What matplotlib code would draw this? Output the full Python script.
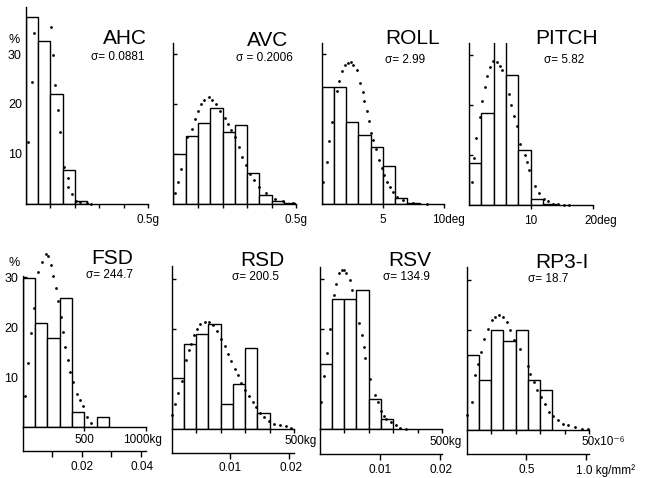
import matplotlib
matplotlib.use('Agg')
import matplotlib.pyplot as plt
import matplotlib.transforms as mtransforms

plt.rcParams['font.family'] = ['Liberation Sans', 'DejaVu Sans']

W, H = 646, 478
PX = 5.0  # pixels per percent

# ---- data ----
ahc_edges = [0.0, 0.05, 0.10, 0.15, 0.20]
ahc_pct = [37.5, 32.7, 22.0, 6.8, 0.7]
ahc_dot_x = [0.009, 0.023, 0.034, 0.102, 0.112, 0.119, 0.130, 0.139, 0.157, 0.171,
             0.173, 0.187, 0.205, 0.221, 0.250, 0.266]
ahc_dot_y = [12.4, 24.4, 34.3, 35.5, 29.8, 23.8, 18.9, 14.4, 7.5, 5.2,
             3.4, 2.1, 0.6, 0.4, 0.3, 0.1]

avc_edges = [0.0, 0.05, 0.10, 0.15, 0.20, 0.25, 0.30, 0.35, 0.40, 0.45]
avc_pct = [10.1, 13.7, 16.1, 19.1, 14.5, 15.8, 6.3, 1.8, 0.6, 0.3]
avc_dot_x = [0.007, 0.020, 0.031, 0.054, 0.074, 0.088, 0.099, 0.112, 0.126, 0.145,
             0.159, 0.173, 0.189, 0.209, 0.223, 0.236, 0.250, 0.266, 0.281, 0.295,
             0.311, 0.328, 0.349, 0.378, 0.412, 0.446, 0.486]
avc_dot_y = [2.3, 4.5, 7.1, 13.5, 15.1, 17.0, 18.6, 19.9, 20.8, 21.3,
             20.8, 19.9, 18.5, 17.1, 16.0, 14.8, 13.5, 11.5, 9.5, 7.8,
             6.1, 4.8, 3.5, 2.3, 1.1, 0.6, 0.3]

roll_edges = [0, 1, 2, 3, 4, 5, 6, 7]
roll_pct = [23.3, 23.3, 16.3, 13.8, 11.5, 7.6, 1.2, 0.3]
roll_dot_x = [0.14, 0.41, 0.60, 0.87, 1.23, 1.44, 1.69, 1.90, 2.13, 2.37,
              2.59, 2.86, 3.13, 3.35, 3.49, 3.68, 3.90, 4.03, 4.22, 4.44,
              4.69, 4.90, 5.10, 5.37, 5.59, 5.80, 6.19, 6.68, 7.50, 8.60]
roll_dot_y = [4.5, 8.5, 12.6, 16.3, 22.5, 24.6, 26.5, 27.7, 28.1, 28.3,
              27.7, 26.7, 24.1, 22.3, 20.5, 18.5, 16.5, 14.3, 12.8, 11.1,
              8.8, 7.3, 5.8, 4.5, 3.5, 2.5, 1.5, 0.8, 0.3, 0.1]

pitch_edges = [0, 2, 4, 6, 8, 10, 12]
pitch_pct = [8.5, 18.3, 33.1, 25.9, 11.0, 1.3, 0.3]
pitch_dot_x = [0.42, 0.84, 1.21, 1.74, 2.10, 2.53, 2.95, 3.32, 3.95, 4.53,
               5.05, 5.30, 6.47, 6.84, 7.26, 7.79, 8.30, 9.00, 9.37, 9.63,
               10.6, 11.3, 12.2, 12.8, 13.6, 14.4, 15.3, 16.2]
pitch_dot_y = [4.6, 9.3, 13.3, 17.5, 20.8, 23.5, 25.8, 27.6, 28.8, 28.5,
               27.8, 27.0, 22.1, 19.9, 17.8, 15.8, 12.1, 10.1, 8.6, 7.1,
               3.8, 2.5, 1.3, 0.8, 0.3, 0.13, 0.05, 0.05]

fsd_edges = [0, 100, 200, 300, 400, 500, 600]
fsd_pct = [29.8, 20.9, 17.9, 25.8, 3.0, 0.0, 2.0]
fsd_dot_x = [19, 46, 68, 95, 127, 154, 186, 208, 227, 249, 270, 289,
             308, 324, 343, 365, 384, 411, 438, 465, 492, 519, 559]
fsd_dot_y = [6.3, 12.9, 18.9, 23.8, 31.0, 33.1, 34.7, 34.3, 32.5, 30.2, 27.9, 25.2,
             22.1, 19.0, 16.1, 13.5, 11.1, 9.0, 6.7, 5.5, 4.3, 2.0, 0.8]

rsd_edges = [0, 50, 100, 150, 200, 250, 300, 350]
rsd_pct = [10.2, 17.0, 19.0, 20.9, 5.0, 9.0, 16.1, 3.1]
rsd_dot_x = [3, 14, 27, 41, 58, 70, 78, 92, 104, 118, 135, 153, 169, 185, 203, 216,
             230, 243, 257, 270, 284, 300, 315, 331, 345, 361, 378, 399, 419, 442, 466, 486]
rsd_dot_y = [2.7, 5.0, 7.1, 9.5, 13.7, 15.7, 17.0, 18.7, 20.0, 20.9, 21.3, 21.3, 20.7, 19.5, 18.0, 16.5,
             15.0, 13.5, 12.0, 10.7, 9.1, 7.7, 6.5, 5.3, 4.3, 3.2, 2.3, 1.5, 1.0, 0.7, 0.5, 0.2]

rsv_edges = [0, 50, 100, 150, 200, 250]
rsv_pct = [13.1, 26.0, 26.0, 27.9, 6.0, 2.1]
rsv_dot_x = [7, 20, 30, 44, 59, 68, 78, 91, 100, 109, 123, 132, 161, 173, 180, 187,
             207, 228, 239, 250, 262, 272, 293, 311, 330, 354]
rsv_dot_y = [5.5, 10.7, 15.3, 20.0, 26.9, 29.1, 31.2, 31.9, 31.8, 31.2, 29.8, 27.8, 21.3, 18.9, 16.5, 14.3,
             10.0, 6.8, 5.5, 3.6, 2.7, 2.1, 1.5, 0.8, 0.3, 0.1]

rp3_edges = [0, 5, 10, 15, 20, 25, 30]
rp3_pct = [15.0, 10.0, 19.9, 17.7, 19.9, 9.9, 8.0]
rp3_dot_x = [0.4, 2.2, 3.6, 4.5, 5.9, 7.2, 8.6, 10.2, 11.6, 13.1, 14.8, 16.4, 17.8, 19.3, 21.6,
             25.0, 26.0, 27.3, 28.7, 30.2, 31.8, 33.6, 35.2, 37.3, 39.3, 41.4, 44.1, 46.9, 49.6]
rp3_dot_y = [2.9, 5.5, 10.9, 13.2, 15.5, 18.2, 20.2, 21.9, 22.5, 22.9, 22.5, 21.5, 19.9, 17.9, 16.2,
             12.7, 11.2, 9.5, 7.9, 6.5, 5.2, 3.5, 2.7, 1.9, 1.2, 0.9, 0.5, 0.2, 0.1]

titles = ['AHC', 'AVC', 'ROLL', 'PITCH', 'FSD', 'RSD', 'RSV', 'RP3-I']
sigmas = ['σ= 0.0881', 'σ = 0.2006', 'σ= 2.99', 'σ= 5.82',
          'σ= 244.7', 'σ= 200.5', 'σ= 134.9', 'σ= 18.7']

fig = plt.figure(figsize=(W / 100, H / 100), dpi=100)


def shift_label(lab, dx):
    lab.set_transform(lab.get_transform() +
                      mtransforms.ScaledTranslation(dx / 100, 0, fig.dpi_scale_trans))


def panel(x0, x1, base, ytop, xmax, edges, width, pct, dx, dy,
          ticks, labels, last_dx=0, first=False, lower=None):
    ax = fig.add_axes([x0 / W, 1 - base / H, (x1 - x0) / W, ytop * PX / H])
    ax.patch.set_alpha(0)
    ax.bar(edges, pct, width=width, align='edge', facecolor='white',
           edgecolor='black', linewidth=1.0, zorder=2)
    ax.plot(dx, dy, 'o', ms=2.0, color='black', mec='none', zorder=3, clip_on=False)
    ax.set_xlim(0, xmax)
    ax.set_ylim(0, ytop)
    ax.spines['top'].set_visible(False)
    ax.spines['right'].set_visible(False)
    for s in ['left', 'bottom']:
        ax.spines[s].set_linewidth(1.0)
    ax.set_yticks([10, 20, 30])
    ax.tick_params(axis='y', direction='in', length=3, width=1.0,
                   labelleft=first, labelsize=9, pad=3)
    ax.set_xticks(ticks, labels)
    ax.tick_params(axis='x', direction='out', length=3, width=1.0,
                   labelsize=8.5, pad=2 if lower else 4)
    shift_label(ax.get_xticklabels()[-1], last_dx)

    if lower is not None:
        low_px, k, lticks, llabels, ldx = lower
        loc = -(low_px - base) / (ytop * PX)
        sec = ax.secondary_xaxis(loc, functions=(lambda v: v * k, lambda v: v / k))
        sec.spines['bottom'].set_linewidth(1.0)
        sec.set_xticks(lticks, llabels)
        sec.tick_params(axis='x', direction='out', length=4, width=1.0,
                        labelsize=8.5, pad=3)
        shift_label(sec.get_xticklabels()[-1], ldx)
        ax.plot([0, 0], [loc, 0], transform=ax.transAxes, color='black',
                lw=1.0, clip_on=False)
    return ax


empty = ''
panel(26, 148, 204, 39.4, 0.5, ahc_edges, 0.05, ahc_pct, ahc_dot_x, ahc_dot_y,
      [0.1, 0.2, 0.3, 0.4, 0.5], [empty] * 4 + ['0.5g'], first=True)
panel(173.3, 296.3, 204, 32.2, 0.5, avc_edges, 0.05, avc_pct, avc_dot_x, avc_dot_y,
      [0.1, 0.2, 0.3, 0.4, 0.5], [empty] * 4 + ['0.5g'])
panel(321.7, 444, 204, 32.2, 10, roll_edges, 1, roll_pct, roll_dot_x, roll_dot_y,
      [5, 10], ['5', '10deg'], last_dx=4)
panel(469, 592.7, 205, 32.4, 20, pitch_edges, 2, pitch_pct, pitch_dot_x, pitch_dot_y,
      [10, 20], ['10', '20deg'], last_dx=8)

panel(22.7, 145.7, 427, 30.3, 1000, fsd_edges, 100, fsd_pct, fsd_dot_x, fsd_dot_y,
      [500, 1000], ['500', '1000kg'], last_dx=-3, first=True,
      lower=(451, 0.04 / 959.3, [0.01, 0.02, 0.03, 0.04],
             [empty, '0.02', empty, '0.04'], 1))
panel(171.5, 294.3, 428.5, 32.5, 500, rsd_edges, 50, rsd_pct, rsd_dot_x, rsd_dot_y,
      [100, 200, 300, 400, 500], [empty] * 4 + ['500kg'], last_dx=6,
      lower=(452.5, 0.02 / 479.6, [0.01, 0.02], ['0.01', '0.02'], 2))
panel(319.5, 442, 429, 32.4, 500, rsv_edges, 50, rsv_pct, rsv_dot_x, rsv_dot_y,
      [100, 200, 300, 400, 500], [empty] * 4 + ['500kg'], last_dx=4,
      lower=(454, 0.02 / 491.8, [0.01, 0.02], ['0.01', '0.02'], 1))
panel(466.5, 589.3, 429.5, 32.5, 50, rp3_edges, 5, rp3_pct, rp3_dot_x, rp3_dot_y,
      [10, 20, 30, 40, 50], [empty] * 4 + ['50x10⁻⁶'], last_dx=14,
      lower=(454, 1 / 48.66, [0.5, 1.0], ['0.5', '1.0 kg/mm²'], 19))

# titles and sigma notes
title_pos = [(125, 38), (268, 40), (413, 39), (567, 39),
             (112, 259), (262, 260), (410, 260), (562, 262)]
sigma_pos = [(118, 57), (264, 58), (405, 60), (564, 60),
             (110, 275), (256, 277), (406, 277), (548, 279)]
for t, s, (tx, ty), (sx, sy) in zip(titles, sigmas, title_pos, sigma_pos):
    fig.text(tx / W, 1 - ty / H, t, fontsize=15, ha='center', va='center')
    fig.text(sx / W, 1 - sy / H, s, fontsize=8.5, ha='center', va='center')

for y in (40, 263):
    fig.text(14 / W, 1 - y / H, '%', fontsize=9, ha='center', va='center')

fig.savefig('out.png', dpi=100)
